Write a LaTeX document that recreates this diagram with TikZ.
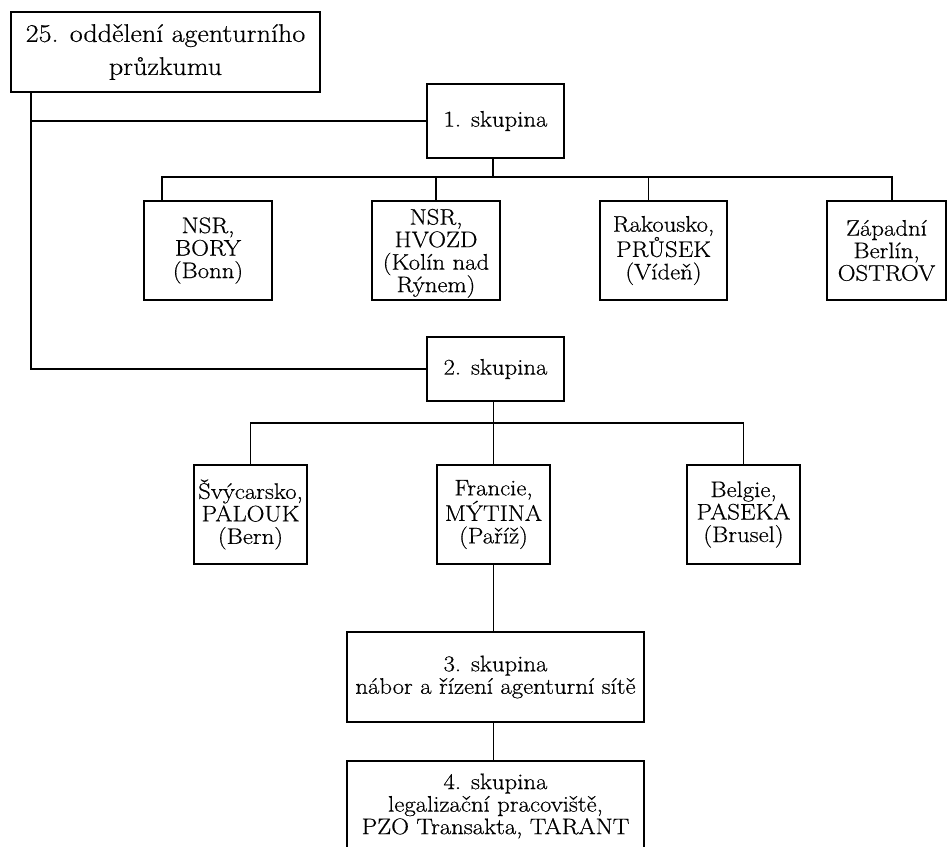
\documentclass[tikz,border=0pt]{standalone}
\usepackage{fontspec}
\usetikzlibrary{positioning,calc}
\newfontfamily\orgfont{Latin Modern Roman}[FakeBold=0.5,FakeStretch=1.1]

\begin{document}
\begin{tikzpicture}[x=1pt,y=-1pt]
	\tikzstyle{unit}=[draw,line width=1.8pt,align=center,inner sep=0pt,font=\orgfont\fontsize{22.5}{22.5}\selectfont]
	\tikzstyle{head}=[unit,font=\orgfont\fontsize{25.5}{33}\selectfont]
	\tikzstyle{office}=[unit,minimum height=99pt]
	\tikzstyle{link}=[line width=1.8pt]
	
	\useasboundingbox (0,0) rectangle (947,846);
	
	% 25. oddeleni
	\node[head, minimum width=309pt, minimum height=80pt] (odd) at (165.5,52) {25. oddělení agenturního\\průzkumu};
	\coordinate (trunk) at ([xshift=21pt]odd.south west);
	
	% 1. skupina
	\node[unit, minimum width=137pt, minimum height=74pt] (sk1) at (495.5,121) {1. skupina};
	\node[office, minimum width=128pt] (bory) at (208,250.5) {NSR,\\BORY\\(Bonn)};
	\node[office, minimum width=128pt, text depth=0pt] (hvozd) at (436,250.5) {NSR,\\HVOZD\\(Kolín nad\\Rýnem)};
	\node[office, minimum width=127pt] (prusek) at (663.5,250.5) {Rakousko,\\PRŮSEK\\(Vídeň)};
	\node[office, minimum width=119pt] (ostrov) at (886.5,250.5) {Západní\\Berlín,\\OSTROV};
	
	% 2. skupina
	\node[unit, minimum width=137pt, minimum height=64pt] (sk2) at (495.5,369) {2. skupina};
	\node[office, minimum width=113pt] (palouk) at (250.5,514.5) {Švýcarsko,\\PALOUK\\(Bern)};
	\node[office, minimum width=113pt] (mytina) at (493.5,514.5) {Francie,\\MÝTINA\\(Paříž)};
	\node[office, minimum width=113pt] (paseka) at (743.5,514.5) {Belgie,\\PASEKA\\(Brusel)};
	
	% 3. a 4. skupina
	\node[unit, minimum width=297pt, minimum height=90pt] (sk3) at (495.5,677) {3. skupina\\nábor a řízení agenturní sítě};
	\node[unit, minimum width=297pt, minimum height=90pt] (sk4) at (495.5,806) {4. skupina\\legalizační pracoviště,\\PZO Transakta, TARANT};
	
	% spoje
	\draw[link] (trunk) |- (sk2.west);
	\draw[link] (sk1.west) -- (sk1.west -| trunk);
	
	\coordinate (bus1) at (0,177);
	\draw[link] ([xshift=-2.5pt]sk1.south) -- ([xshift=-2.5pt]sk1.south |- bus1);
	\draw[link] ([xshift=-46pt]bory.north) |- ([xshift=5.5pt]ostrov.north |- bus1) -- ([xshift=5.5pt]ostrov.north);
	\draw[link] (hvozd.north) -- (hvozd.north |- bus1);
	\draw[link] ([xshift=-15pt]prusek.north) -- ([xshift=-15pt]prusek.north |- bus1);
	
	\coordinate (bus2) at (0,423);
	\draw[link] (sk2.south -| mytina) -- (mytina.north);
	\draw[link] (palouk.north) |- (paseka.north |- bus2) -- (paseka.north);
	\draw[link] (mytina.south) -- (mytina.south |- sk3.north);
	\draw[link] (sk3.south -| mytina) -- (sk4.north -| mytina);
\end{tikzpicture}
\end{document}
